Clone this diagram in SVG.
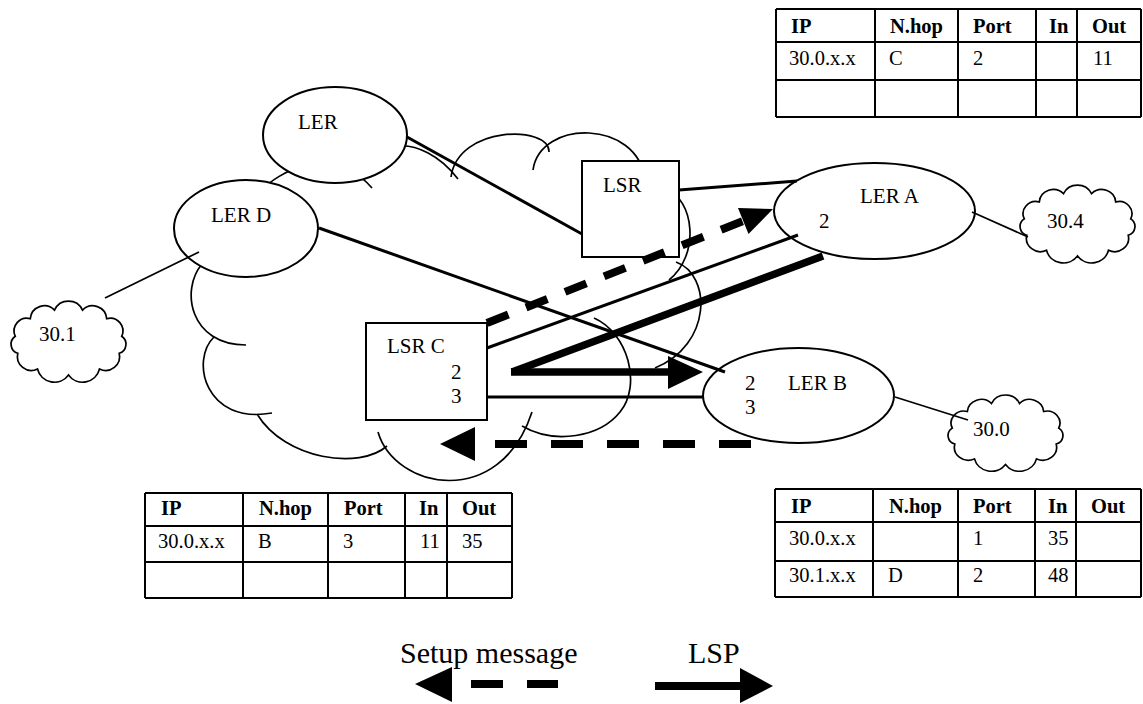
<svg xmlns="http://www.w3.org/2000/svg" width="1143" height="704" viewBox="0 0 1143 704">
  <style>
    text { font-family: "Liberation Serif", "Times New Roman", serif; fill: #000; }
    .lbl { font-size: 21px; }
    .th { font-size: 20.5px; font-weight: bold; }
    .td { font-size: 20.5px; }
    .leg { font-size: 30px; }
    .cloud { fill: none; stroke: #000; stroke-width: 1.7; }
    .node { fill: #fff; stroke: #000; stroke-width: 2; }
    .link { stroke: #000; stroke-width: 3; fill: none; }
    .thin { stroke: #000; stroke-width: 1.7; fill: none; }
    .lsp { stroke: #000; stroke-width: 7.5; fill: none; }
    .setup { stroke: #000; stroke-width: 8; fill: none; }
    .grid { stroke: #000; stroke-width: 2; fill: none; }
    .head { fill: #000; }
  </style>
  <defs>
    <!-- scalloped subnet outline, 125 x 84 box -->
    <path id="subnet" d="M 9.3 36.3 A 12.7 12.7 0 0 1 24.3 18.7 A 14.1 14.1 0 0 1 48.5 10.1 A 15.4 15.4 0 0 1 76.5 10.1 A 14.1 14.1 0 0 1 100.7 18.7 A 12.7 12.7 0 0 1 115.7 36.3 A 9.5 9.5 0 0 1 113.2 53.3 A 13.9 13.9 0 0 1 93.5 69 A 17.4 17.4 0 0 1 62.5 75 A 17.4 17.4 0 0 1 31.5 69 A 13.9 13.9 0 0 1 11.8 53.3 A 9.5 9.5 0 0 1 9.3 36.3 Z"/>
  </defs>

  <!-- MPLS core cloud outline: overlapping arcs -->
  <g id="core-cloud">
    <path class="cloud" d="M 262 190 C 275 175 330 140 372 188
      M 398 146 C 415 144 440 155 458 179
      M 451 177 C 458 125 550 125 549 152
      M 533 170 C 540 119 638 119 645 180
      M 665 188 C 695 200 700 255 669 280
      M 676 262 C 712 275 712 345 655 368
      M 594 318 C 628 333 642 385 620 412 C 600 437 555 445 522 426
      M 378 432 C 395 490 500 510 532 412
      M 257 414 C 285 460 360 470 387 446
      M 214 337 C 190 360 205 425 272 413
      M 202 264 C 180 290 190 345 246 345"/>
  </g>

  <!-- edge subnets -->
  <g id="net-30-1">
    <use href="#subnet" class="cloud" transform="translate(6 300)"/>
    <text class="lbl" x="39" y="341">30.1</text>
  </g>
  <g id="net-30-4">
    <use href="#subnet" class="cloud" transform="translate(1015 184) scale(1 0.96)"/>
    <text class="lbl" x="1047" y="228">30.4</text>
  </g>
  <g id="net-30-0">
    <use href="#subnet" class="cloud" transform="translate(943 394) scale(1 0.94)"/>
    <text class="lbl" x="973" y="436">30.0</text>
  </g>

  <!-- routers -->
  <g id="ler">
    <ellipse class="node" cx="335" cy="135" rx="72" ry="48"/>
    <text class="lbl" x="298" y="129">LER</text>
  </g>
  <g id="ler-d">
    <ellipse class="node" cx="246" cy="228.5" rx="72" ry="48.5"/>
    <text class="lbl" x="211" y="222">LER D</text>
  </g>
  <g id="lsr">
    <rect class="node" x="582" y="161" width="97" height="96"/>
    <text class="lbl" x="603" y="192">LSR</text>
  </g>
  <g id="lsr-c">
    <rect class="node" x="366" y="323" width="121" height="97"/>
    <text class="lbl" x="387" y="353">LSR C</text>
    <text class="lbl" x="451" y="379">2</text>
    <text class="lbl" x="451" y="403">3</text>
  </g>
  <g id="ler-a">
    <ellipse class="node" cx="874.5" cy="211" rx="100.5" ry="48"/>
    <text class="lbl" x="860" y="203">LER A</text>
    <text class="lbl" x="819" y="228">2</text>
  </g>
  <g id="ler-b">
    <ellipse class="node" cx="798.5" cy="395.5" rx="95.5" ry="47.5"/>
    <text class="lbl" x="788" y="390">LER B</text>
    <text class="lbl" x="745" y="390">2</text>
    <text class="lbl" x="745" y="414">3</text>
  </g>

  <!-- links, LSP and setup messages -->
  <g id="connectors">
    <path class="link" d="M 407 137 L 582 234"/>
    <path class="link" d="M 679 190 L 797 181"/>
    <path class="link" d="M 319 228 L 725 372"/>
    <path class="link" d="M 487 348 L 798 235"/>
    <path class="link" d="M 487 397 L 703 397"/>
    <path class="thin" d="M 105 298 L 199 252"/>
    <path class="thin" d="M 972 212 L 1028 237"/>
    <path class="thin" d="M 895 397 L 968 420"/>

    <path class="lsp" d="M 823 256 L 512 372"/>
    <path class="lsp" d="M 511 372 L 670 372"/>
    <polygon class="head" points="668,356 703,372 668,389"/>

    <path class="setup" d="M 487 323 L 743 221" stroke-dasharray="23 19"/>
    <polygon class="head" points="773,209 738,208 748.5,234"/>

    <path class="setup" d="M 751 444 L 495 444" stroke-dasharray="32 24"/>
    <polygon class="head" points="440,444 475,427 475,461"/>
  </g>

  <!-- label table at LER A -->
  <g id="table-ler-a">
    <path class="grid" d="M 776 9 H 1141 M 776 42 H 1141 M 776 80 H 1141 M 776 117 H 1141
      M 776 9 V 117 M 875 9 V 117 M 958 9 V 117 M 1036 9 V 117 M 1077 9 V 117 M 1141 9 V 117"/>
    <text class="th" x="791" y="33">IP</text>
    <text class="th" x="890" y="33">N.hop</text>
    <text class="th" x="973" y="33">Port</text>
    <text class="th" x="1049" y="33">In</text>
    <text class="th" x="1092" y="33">Out</text>
    <text class="td" x="789" y="65">30.0.x.x</text>
    <text class="td" x="889" y="65">C</text>
    <text class="td" x="973" y="65">2</text>
    <text class="td" x="1093" y="65">11</text>
  </g>

  <!-- label table at LSR C -->
  <g id="table-lsr-c">
    <path class="grid" d="M 145 493 H 512 M 145 526 H 512 M 145 562 H 512 M 145 598 H 512
      M 145 493 V 598 M 243 493 V 598 M 328 493 V 598 M 405 493 V 598 M 447 493 V 598 M 512 493 V 598"/>
    <text class="th" x="161" y="515">IP</text>
    <text class="th" x="259" y="515">N.hop</text>
    <text class="th" x="344" y="515">Port</text>
    <text class="th" x="419" y="515">In</text>
    <text class="th" x="462" y="515">Out</text>
    <text class="td" x="158" y="548">30.0.x.x</text>
    <text class="td" x="258" y="548">B</text>
    <text class="td" x="343" y="548">3</text>
    <text class="td" x="420" y="548">11</text>
    <text class="td" x="462" y="548">35</text>
  </g>

  <!-- label table at LER B -->
  <g id="table-ler-b">
    <path class="grid" d="M 775 489 H 1141 M 775 522 H 1141 M 775 561 H 1141 M 775 597 H 1141
      M 775 489 V 597 M 873 489 V 597 M 958 489 V 597 M 1035 489 V 597 M 1076 489 V 597 M 1141 489 V 597"/>
    <text class="th" x="791" y="513">IP</text>
    <text class="th" x="889" y="513">N.hop</text>
    <text class="th" x="973" y="513">Port</text>
    <text class="th" x="1048" y="513">In</text>
    <text class="th" x="1091" y="513">Out</text>
    <text class="td" x="789" y="545">30.0.x.x</text>
    <text class="td" x="973" y="545">1</text>
    <text class="td" x="1048" y="545">35</text>
    <text class="td" x="789" y="582">30.1.x.x</text>
    <text class="td" x="888" y="582">D</text>
    <text class="td" x="973" y="582">2</text>
    <text class="td" x="1048" y="582">48</text>
  </g>

  <!-- legend -->
  <g id="legend">
    <text class="leg" x="400" y="663">Setup message</text>
    <polygon class="head" points="415,684 452,667 452,702"/>
    <path class="setup" d="M 471 684 H 503 M 527 684 H 558"/>
    <text class="leg" x="688" y="663">LSP</text>
    <path class="setup" d="M 655 686 H 742"/>
    <polygon class="head" points="740,668 773,686 740,703"/>
  </g>
</svg>
